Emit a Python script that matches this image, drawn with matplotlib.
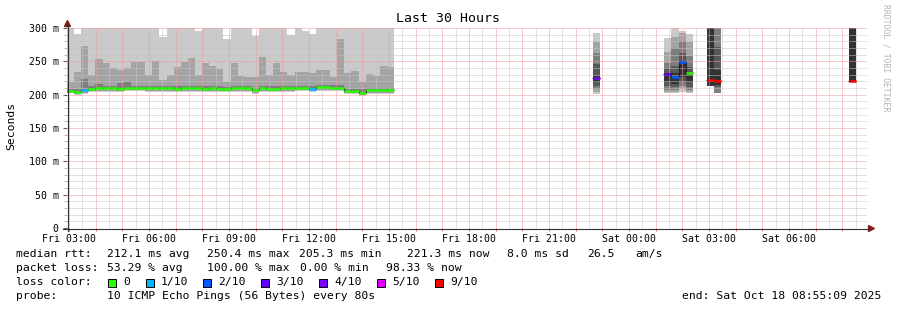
import numpy as np
import matplotlib
matplotlib.use('Agg')
from matplotlib import pyplot as plt
from matplotlib.patches import Rectangle, Polygon
from matplotlib.lines import Line2D

W, H = 897, 310
MONO = 'DejaVu Sans Mono'

# time axis in hours since Fri 00:00, 16 min rrd steps
t_left = 2 + 55/60 + 9/3600
step = 16/60

# --- first block of samples (bars 0..45), values in ms ---
blk_max = [300, 291, 300, 300, 300, 300, 300, 300, 300, 300,
           300, 300, 300, 286, 300, 300, 300, 300, 296, 300,
           300, 300, 283, 300, 300, 300, 288.5, 300, 300, 300,
           300, 289.5, 300, 295, 291, 300, 300, 300, 300, 300,
           300, 300, 300, 300, 300, 300]
blk_p9 = [218.5, 234, 273, 229.5, 253.5, 247.5, 240.5, 236.5, 240.5, 248.5,
          248.5, 229.5, 250.5, 222.5, 229.5, 241.5, 249, 255, 229.5, 247.5,
          243, 238.5, 219, 247.5, 228.5, 227, 226.5, 256.5, 229.5, 247.5,
          234.5, 229.5, 234.5, 234.5, 233, 237, 237, 226, 283.5, 233,
          235.5, 219.5, 231, 228, 243, 242]
blk_p8 = [209, 208, 223.5, 212.5, 216, 213, 213, 217.5, 219, 213.5,
          213.5, 213, 213, 213, 213, 212.5, 213, 213, 213, 212.5,
          213, 212.5, 212, 213, 213, 213, 210, 213, 212.5, 212.5,
          213, 213, 213.5, 213.5, 212.5, 214.5, 214.5, 214, 214.5, 209,
          209, 208, 210, 210, 210, 210]
blk_med = [205.5, 204.5, 206.5, 209, 209.5, 209.5, 209.5, 209, 210, 210,
           210, 209.5, 209.5, 209.5, 209.5, 209, 209.5, 209.5, 209.5, 209,
           209.5, 209, 208.5, 209.5, 209.5, 209.5, 206.5, 209.5, 209, 209,
           209.5, 209.5, 210, 210, 209, 211, 211, 210.5, 210.5, 205.5,
           205.5, 203, 206.5, 206.5, 206.5, 206.5]
blk_p2 = [203, 201.5, 203, 205.5, 206, 206, 206, 205.5, 206.5, 206.5,
          206.5, 206, 206, 206, 206, 205.5, 206, 206, 206, 205.5,
          206, 205.5, 205, 206, 206, 206, 203, 206, 205.5, 205.5,
          206, 206, 206.5, 206.5, 205.5, 207.5, 207.5, 207, 207, 202,
          202, 199.5, 203, 203, 203, 203]
blk_p1 = [202, 200, 201, 204, 204.5, 204.5, 204.5, 204, 205, 205,
          205, 204.5, 204.5, 204.5, 204.5, 204, 204.5, 204.5, 204.5, 204,
          204.5, 204, 203.5, 204.5, 204.5, 204.5, 201.5, 204.5, 204, 204,
          204.5, 204.5, 205, 205, 204, 206, 206, 205.5, 205.5, 200.5,
          200.5, 198, 201.5, 201.5, 201.5, 201.5]
blk_loss = [0, 0, 1, 0, 0, 0, 0, 0, 0, 0,
            0, 0, 0, 0, 0, 0, 0, 0, 0, 0,
            0, 0, 0, 0, 0, 0, 0, 0, 0, 0,
            0, 0, 0, 0, 1, 0, 0, 0, 0, 0,
            0, 0, 0, 0, 0, 0]

# --- later isolated samples ---
late_idx = [74, 84, 85, 86, 87, 90, 91, 110]
late_med = [224.5, 230.5, 227, 248.5, 232, 221.7, 220.7, 220.5]
late_loss = [4, 3, 2, 2, 0, 9, 9, 9]
# smoke bands (low, high) from outer to inner shade
late_ca = [(201, 292.5), (202.5, 285), (202.5, 300), (203.5, 296), (202.5, 291),
           (213.5, 300), (203, 300), (221, 300)]
late_a4 = [(203.5, 278.5), (204.5, 263.5), (204.5, 286), (208.5, 292), (204.5, 278.5),
           (213.5, 300), (203, 300), (221, 300)]
late_7e = [(208.5, 262.5), (207.5, 247.5), (207.5, 270), (213.5, 280), (207.5, 258.5),
           (213.5, 300), (203, 300), (221, 300)]
late_58 = [(213.5, 246), (212.5, 239.5), (211, 243.5), (218.5, 262), (211, 241),
           (213.5, 300), (211, 272), (221, 300)]
late_32 = [(219, 228), (218.5, 233), (216, 232), (226, 248.5), (218.5, 232),
           (213.5, 300), (215, 237), (221, 300)]

loss_colors = ['#26ff00', '#00b8ff', '#0059ff', '#5e00ff', '#7e00ff', '#dd00ff', '#ff0000']
loss_labels = ['0', '1/10', '2/10', '3/10', '4/10', '5/10', '9/10']
shades = ['#cacaca', '#a4a4a4', '#7e7e7e', '#585858', '#323232']


def loss_color(n):
    if n >= 9:
        return loss_colors[6]
    if n >= 5:
        return loss_colors[5]
    return loss_colors[n]


fig = plt.figure(figsize=(W/100, H/100), dpi=100)
fig.patch.set_facecolor('white')
ax = fig.add_axes([67/W, (H-228)/H, 800/W, 200/H])
ax.set_xlim(t_left, t_left + 30)
ax.set_ylim(0, 300)
for s in ax.spines.values():
    s.set_visible(False)
ax.set_facecolor('white')

# smoke, first block
x0 = t_left + np.arange(len(blk_med)) * step
ax.bar(x0, np.array(blk_max) - blk_p1, bottom=blk_p1, width=step, align='edge',
       color=shades[0], linewidth=0, antialiased=False, zorder=1)
ax.bar(x0, np.array(blk_p9) - blk_p2, bottom=blk_p2, width=step, align='edge',
       color=shades[1], linewidth=0, antialiased=False, zorder=1.1)
ax.bar(x0, np.array(blk_p8) - blk_med, bottom=blk_med, width=step, align='edge',
       color=shades[2], linewidth=0, antialiased=False, zorder=1.2)

# smoke, later samples
x1 = t_left + np.array(late_idx) * step
for k, band in enumerate([late_ca, late_a4, late_7e, late_58, late_32]):
    lo = np.array([b[0] for b in band])
    hi = np.array([b[1] for b in band])
    ax.bar(x1, hi - lo, bottom=lo, width=step, align='edge',
           color=shades[k], linewidth=0, antialiased=False, zorder=1 + 0.1*k)

# grid on top of the smoke
minor_c, major_c = '#c4c4c4', '#f29a9a'
for v in range(10, 300, 10):
    if v % 50:
        ax.axhline(v, color=minor_c, lw=0.72, ls=(0, (1, 1)), zorder=2)
for v in range(50, 301, 50):
    ax.axhline(v, color=major_c, lw=0.72, ls=(0, (1, 1)), zorder=2.1)
for h in np.arange(3.5, 33, 1.0):
    ax.axvline(h, color=minor_c, lw=0.72, ls=(0, (1, 1)), zorder=2)
for h in range(3, 33):
    ax.axvline(h, color=major_c, lw=0.72, ls=(0, (1, 1)), zorder=2.1)

# median: thin black step line, then loss coloured segments
idx_all = list(range(len(blk_med))) + late_idx
med_all = blk_med + late_med
loss_all = blk_loss + late_loss
for j, (i, m) in enumerate(zip(idx_all, med_all)):
    xs = t_left + i * step
    prev_gap = j == 0 or idx_all[j - 1] != i - 1
    ax.hlines(m, xs - (0.05 if prev_gap else 0), xs + step, color='#202020', lw=0.8, zorder=3)
    if not prev_gap:
        ax.vlines(xs, med_all[j - 1], m, color='#202020', lw=0.8, zorder=3)
for i, m, n in zip(idx_all, med_all, loss_all):
    xs = t_left + i * step
    ax.hlines(m, xs, xs + step, color=loss_color(n), lw=1.8, zorder=3.5)

# ticks
ax.set_yticks(range(0, 301, 50))
ax.set_yticklabels(['0', '50 m', '100 m', '150 m', '200 m', '250 m', '300 m'],
                   family=MONO, fontsize=7.1)
ax.set_yticks(range(0, 301, 10), minor=True)
ax.tick_params(axis='y', which='major', length=3, width=0.8, color='#606060', pad=3)
ax.tick_params(axis='y', which='minor', length=2, width=0.7, color='#b8b8b8')
xt = list(range(3, 31, 3))
ax.set_xticks(xt)
ax.set_xticklabels(['Fri %02d:00' % h if h < 24 else 'Sat %02d:00' % (h - 24) for h in xt],
                   family=MONO, fontsize=7.1)
ax.set_xticks(range(3, 33), minor=True)
ax.tick_params(axis='x', which='major', length=2, width=0.8, color='#e07070', pad=2)
ax.tick_params(axis='x', which='minor', length=2, width=0.7, color='#e07070')


def fx(x):
    return x / W


def fy(y):
    return 1 - y / H


# axis lines and arrows
fig.add_artist(Line2D([fx(67.5), fx(67.5)], [fy(231), fy(24)], color='#303030', lw=0.8))
fig.add_artist(Line2D([fx(63), fx(870)], [fy(228.5), fy(228.5)], color='#303030', lw=0.8))
fig.add_artist(Polygon([(fx(64.5), fy(26.5)), (fx(70.5), fy(26.5)), (fx(67.5), fy(20.5))],
                       closed=True, color='#8b1a1a', transform=fig.transFigure))
fig.add_artist(Polygon([(fx(868.5), fy(225.5)), (fx(868.5), fy(231.5)), (fx(874.5), fy(228.5))],
                       closed=True, color='#8b1a1a', transform=fig.transFigure))

# title, y label, watermark
fig.text(fx(448), fy(19), 'Last 30 Hours', family=MONO, fontsize=9.5,
         ha='center', va='center')
fig.text(fx(11), fy(126), 'Seconds', family=MONO, fontsize=8.2, rotation=90,
         ha='center', va='center')
fig.text(fx(886), fy(4), 'RRDTOOL / TOBI OETIKER', family=MONO, fontsize=5.9,
         rotation=270, ha='center', va='top', color='#b4b4b4')

# legend rows
rows = [
    (254, [(16, 'median rtt:'), (107, '212.1 ms avg'), (207, '250.4 ms max'),
           (299, '205.3 ms min'), (407, '221.3 ms now'), (507, '8.0 ms sd'),
           (587, '26.5'), (635, 'am/s')]),
    (268, [(16, 'packet loss:'), (107, '53.29 % avg'), (207, '100.00 % max'),
           (300, '0.00 % min'), (386, '98.33 % now')]),
    (282, [(16, 'loss color:')]),
    (296, [(16, 'probe:'), (107, '10 ICMP Echo Pings (56 Bytes) every 80s')]),
]
for y, items in rows:
    for x, s in items:
        fig.text(fx(x), fy(y), s, family=MONO, fontsize=8.2, ha='left', va='center')
fig.text(fx(881), fy(296), 'end: Sat Oct 18 08:55:09 2025', family=MONO, fontsize=8.2,
         ha='right', va='center')

box_x = [108, 146, 203, 261, 319, 377, 435]
for bx, c, lab in zip(box_x, loss_colors, loss_labels):
    fig.add_artist(Rectangle((fx(bx), fy(286.5)), 8/W, 8/H, transform=fig.transFigure,
                             facecolor=c, edgecolor='black', lw=0.7))
    fig.text(fx(bx + 15), fy(282), lab, family=MONO, fontsize=8.2, ha='left', va='center')

fig.savefig('out.png', dpi=100, facecolor='white')
